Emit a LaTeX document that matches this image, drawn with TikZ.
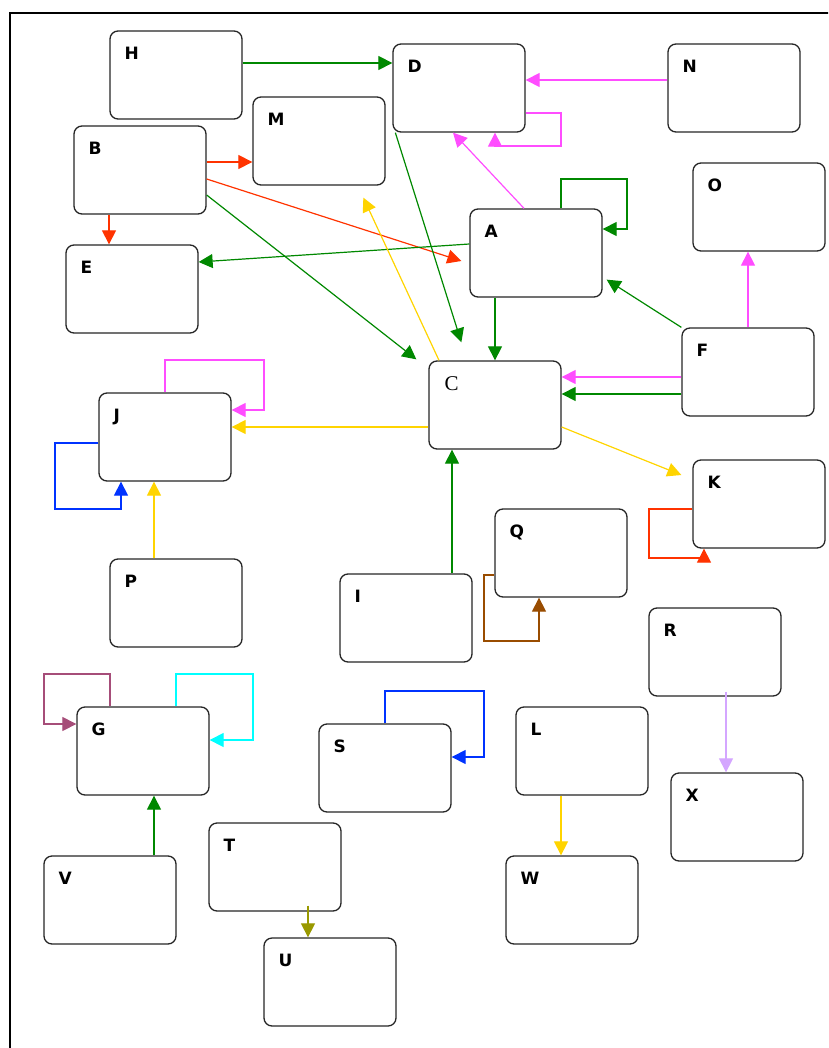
\documentclass[tikz,border=0pt]{standalone}
\usepackage{fontspec}
\usetikzlibrary{arrows.meta,calc}
\newfontfamily\lblfont{DejaVu Sans}
\newfontfamily\serlbl{Liberation Serif}
\definecolor{cgreen}{RGB}{0,136,0}
\definecolor{cmag}{RGB}{255,77,255}
\definecolor{cred}{RGB}{255,51,0}
\definecolor{cyel}{RGB}{255,212,0}
\definecolor{cblue}{RGB}{0,51,255}
\definecolor{cbrown}{RGB}{153,76,0}
\definecolor{cmauve}{RGB}{166,77,121}
\definecolor{ccyan}{RGB}{0,255,255}
\definecolor{clav}{RGB}{212,166,255}
\definecolor{colive}{RGB}{153,153,0}
\tikzset{
  box/.style={draw=black!85, line width=1.3pt, rounded corners=8pt, minimum width=132pt, minimum height=88pt, inner sep=0pt, fill=white},
  lbl/.style={font=\lblfont\bfseries\fontsize{17}{17}\selectfont, anchor=base west, xshift=15pt, yshift=-29pt, inner sep=0pt},
  slbl/.style={font=\serlbl\fontsize{21}{21}\selectfont, anchor=base west, xshift=16pt, yshift=-30pt, inner sep=0pt},
  edge/.style={line width=1.2pt, -{Triangle[length=14pt,width=14pt]}},
}
\newcommand\bx[3]{\node[box, label={[lbl]north west:#1}] (#1) at ({#2+66},{#3+44}) {};}
\begin{document}
\begin{tikzpicture}[x=1pt,y=-1pt]
\useasboundingbox (0,0) rectangle (828,1048);
\clip (0,0) rectangle (828,1048);
\draw[line width=1.2pt] (10,1060) -- (10,13) -- (840,13);
\bx{H}{110}{31}
\bx{B}{74}{126}
\bx{M}{253}{97}
\bx{D}{393}{44}
\bx{N}{668}{44}
\bx{O}{693}{163}
\bx{A}{470}{209}
\bx{E}{66}{245}
\bx{F}{682}{328}
\node[box, label={[slbl]north west:C}] (C) at (495,405) {};
\bx{J}{99}{393}
\bx{K}{693}{460}
\bx{Q}{495}{509}
\bx{P}{110}{559}
\bx{I}{340}{574}
\bx{R}{649}{608}
\bx{G}{77}{707}
\bx{S}{319}{724}
\bx{L}{516}{707}
\bx{W}{506}{856}
\bx{X}{671}{773}
\bx{T}{209}{823}
\bx{V}{44}{856}
\bx{U}{264}{938}
% edges
\draw[edge,cgreen] (H.east |- 0,63) -- (D.west |- 0,63);
\draw[edge,cmag] (N.west |- 0,80) -- (D.east |- 0,80);
\draw[edge,cmag] (D.east |- 0,113) -| (561,146) -| (D.south -| 495,0);
\draw[edge,cmag] (A.north -| 524,0) -- (D.south -| 453,0);
\draw[edge,cgreen] (A.north -| 561,0) |- (627,179) |- (A.east |- 0,229);
\draw[edge,cred] (B.east |- 0,162) -- (M.west |- 0,162);
\draw[edge,cred] (B.east |- 0,179) -- ($(A.west)+(-8,8)$);
\draw[edge,cred] (B.south -| 109,0) -- (E.north -| 109,0);
\draw[edge,cgreen] (B.east |- 0,195) -- ($(C.north west)+(-12,-1)$);
\draw[edge,cgreen] (A.west |- 0,244) -- (E.east |- 0,262);
\draw[edge,cgreen] ($(D.south west)+(3,0)$) -- ($(C.north west)+(33,-18)$);
\draw[edge,cgreen] (A.south -| 495,0) -- (C.north -| 495,0);
\draw[edge,cgreen] (F.north west) -- ($(A.south east)+(4,-18)$);
\draw[edge,cmag] (F.north -| 748,0) -- (O.south -| 748,0);
\draw[edge,cmag] (F.west |- 0,377) -- (C.east |- 0,377);
\draw[edge,cgreen] (F.west |- 0,394) -- (C.east |- 0,394);
\draw[edge,cyel] (C.north -| 439,0) -- ($(M.south west)+(111,12)$);
\draw[edge,cyel] (C.west |- 0,427) -- (J.east |- 0,427);
\draw[edge,cyel] (C.east |- 0,427) -- ($(K.west)+(-11,-29)$);
\draw[edge,cmag] (J.north -| 165,0) |- (264,360) |- (J.east |- 0,410);
\draw[edge,cblue] (J.west |- 0,443) -| (55,509) -| (J.south -| 121,0);
\draw[edge,cyel] (P.north -| 154,0) -- (J.south -| 154,0);
\draw[edge,cgreen] (I.north -| 452,0) -- (C.south -| 452,0);
\draw[edge,cbrown] (Q.west |- 0,575) -| (484,641) -| (Q.south -| 539,0);
\draw[edge,cred] (K.west |- 0,509) -| (649,558) -| (K.south -| 704,0);
\draw[edge,clav] ($(R.south)+(11,-5)$) -- (X.north -| 726,0);
\draw[edge,cmauve] (G.north -| 110,0) |- (44,674) |- (G.west |- 0,724);
\draw[edge,ccyan] (G.north -| 176,0) |- (253,674) |- (G.east |- 0,740);
\draw[edge,cgreen] (V.north -| 154,0) -- (G.south -| 154,0);
\draw[edge,cblue] (S.north -| 385,0) |- (484,691) |- (S.east |- 0,757);
\draw[edge,cyel] (L.south -| 561,0) -- (W.north -| 561,0);
\draw[edge,colive] ($(T.south)+(33,-6)$) -- (U.north -| 308,0);
\end{tikzpicture}
\end{document}
